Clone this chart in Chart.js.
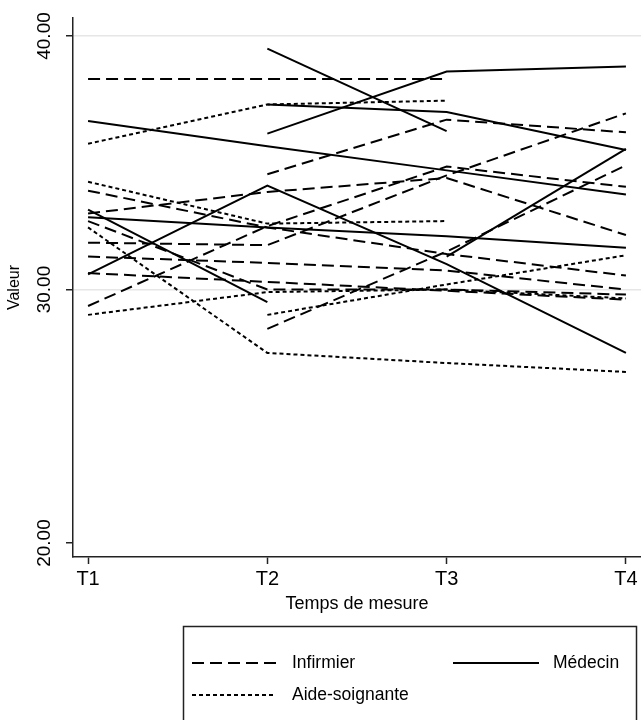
<!DOCTYPE html>
<html>
<head>
<meta charset="utf-8">
<script src="https://cdn.jsdelivr.net/npm/chart.js@4.4.1/dist/chart.umd.min.js"></script>
<style>
  html, body { margin: 0; padding: 0; background: #fff; }
</style>
</head>
<body>
<canvas id="myChart" width="641" height="720"></canvas>
<script>
const times = [1, 2, 3, 4];
const timeLabels = ['T1', 'T2', 'T3', 'T4'];
const yTicks = [20, 30, 40];
const legendLabels = ['Infirmier', 'Médecin', 'Aide-soignante'];

// one row per person, values at T1..T4 (null = not measured)
const infirmier = [
    [38.3, 38.3, 38.3, null],
    [null, 34.55, 36.7, 36.2],
    [33.9, 32.45, 31.4, 30.55],
    [33.0, 33.85, 34.4, 32.15],
    [29.35, 32.5, 34.85, 34.05],
    [32.7, 30.0, 30.0, 29.8],
    [31.85, 31.75, 34.5, 36.95],
    [31.3, 31.05, 30.75, 30.0],
    [30.65, 30.3, 29.95, 29.6],
    [null, 28.45, 31.5, 34.9]
];

const medecin = [
    [null, 39.5, 36.25, null],
    [null, 36.15, 38.6, 38.8],
    [null, 37.3, 37.0, 35.5],
    [36.65, 35.65, 34.7, 33.75],
    [32.85, 32.45, 32.1, 31.65],
    [33.15, 29.5, null, null],
    [30.6, 34.1, 31.0, 27.5],
    [null, null, 31.3, 35.55]
];

const aideSoignante = [
    [35.75, 37.3, 37.45, null],
    [34.25, 32.6, 32.7, null],
    [32.45, 27.5, 27.1, 26.75],
    [29.0, 29.9, 30.0, 29.65],
    [null, 29.0, 30.2, 31.35]
];

const FONT = '"Liberation Sans", Arial, sans-serif';
const dashes = [[12, 6], [], [4, 3]];

function makeSets(rows, dash, name) {
    return rows.map(row => ({
        label: name,
        data: times.map((t, i) => ({ x: t, y: row[i] })),
        borderColor: '#000',
        borderWidth: 2,
        borderDash: dash,
        pointRadius: 0,
        tension: 0,
        fill: false,
        spanGaps: false
    }));
}

const datasets = [
    ...makeSets(infirmier, dashes[0], legendLabels[0]),
    ...makeSets(medecin, dashes[1], legendLabels[1]),
    ...makeSets(aideSoignante, dashes[2], legendLabels[2])
];

// rotated y tick labels like the original (40.00 etc.)
const yLabelPlugin = {
    id: 'yLabels',
    afterDraw(chart) {
        const ctx = chart.ctx;
        const y = chart.scales.y;
        ctx.save();
        ctx.font = '19px ' + FONT;
        ctx.fillStyle = '#000';
        ctx.textAlign = 'center';
        ctx.textBaseline = 'middle';
        yTicks.forEach(v => {
            ctx.save();
            ctx.translate(y.right - 28, y.getPixelForValue(v));
            ctx.rotate(-Math.PI / 2);
            ctx.fillText(v.toFixed(2), 0, 0);
            ctx.restore();
        });
        ctx.restore();
    }
};

// boxed legend under the axis
const boxLegend = {
    id: 'boxLegend',
    afterDraw(chart) {
        const ctx = chart.ctx;
        ctx.save();
        ctx.strokeStyle = '#222';
        ctx.lineWidth = 1.5;
        ctx.strokeRect(183.5, 626.5, 453, 120);

        const items = [
            { x: 192, y: 663, len: 86 },
            { x: 453, y: 663, len: 86 },
            { x: 192, y: 695, len: 84 }
        ];
        ctx.font = '17.5px ' + FONT;
        ctx.fillStyle = '#000';
        ctx.textBaseline = 'middle';
        items.forEach((it, i) => {
            ctx.beginPath();
            ctx.setLineDash(dashes[i]);
            ctx.lineWidth = 2;
            ctx.strokeStyle = '#000';
            ctx.moveTo(it.x, it.y);
            ctx.lineTo(it.x + it.len, it.y);
            ctx.stroke();
            ctx.setLineDash([]);
            ctx.fillText(legendLabels[i], 292 + (i === 1 ? 261 : 0), it.y);
        });
        ctx.restore();
    }
};

new Chart(document.getElementById('myChart'), {
    type: 'line',
    data: { datasets: datasets },
    options: {
        responsive: false,
        animation: false,
        devicePixelRatio: 1,
        layout: { padding: { top: 18, right: 0, bottom: 93, left: 0 } },
        plugins: {
            legend: { display: false },
            tooltip: { enabled: false }
        },
        scales: {
            x: {
                type: 'linear',
                min: 0.916,
                max: 4.084,
                afterBuildTicks: s => { s.ticks = times.map(v => ({ value: v })); },
                afterFit: s => { s.height = 70; },
                ticks: {
                    callback: v => timeLabels[times.indexOf(v)],
                    font: { family: FONT, size: 20 },
                    color: '#000',
                    padding: 3,
                    maxRotation: 0,
                    autoSkip: false
                },
                grid: { drawOnChartArea: false, drawTicks: true, tickLength: 7, tickColor: '#222', tickWidth: 1.5 },
                border: { display: true, color: '#222', width: 1.5 },
                title: {
                    display: true,
                    text: 'Temps de mesure',
                    font: { family: FONT, size: 18 },
                    color: '#000',
                    padding: { top: 0, bottom: 12 }
                }
            },
            y: {
                min: 19.45,
                max: 40.71,
                afterBuildTicks: s => { s.ticks = yTicks.map(v => ({ value: v })); },
                afterFit: s => { s.width = 73; },
                ticks: { display: false },
                grid: {
                    color: c => (c.tick && c.tick.value > 20 ? '#e6e6e6' : 'rgba(0,0,0,0)'),
                    lineWidth: 1.5,
                    drawTicks: true,
                    tickLength: 7,
                    tickColor: '#222',
                    tickWidth: 1.5
                },
                border: { display: true, color: '#222', width: 1.5 },
                title: {
                    display: true,
                    text: 'Valeur',
                    font: { family: FONT, size: 16 },
                    color: '#000',
                    padding: { top: 5, bottom: 0 }
                }
            }
        }
    },
    plugins: [yLabelPlugin, boxLegend]
});
</script>
</body>
</html>
